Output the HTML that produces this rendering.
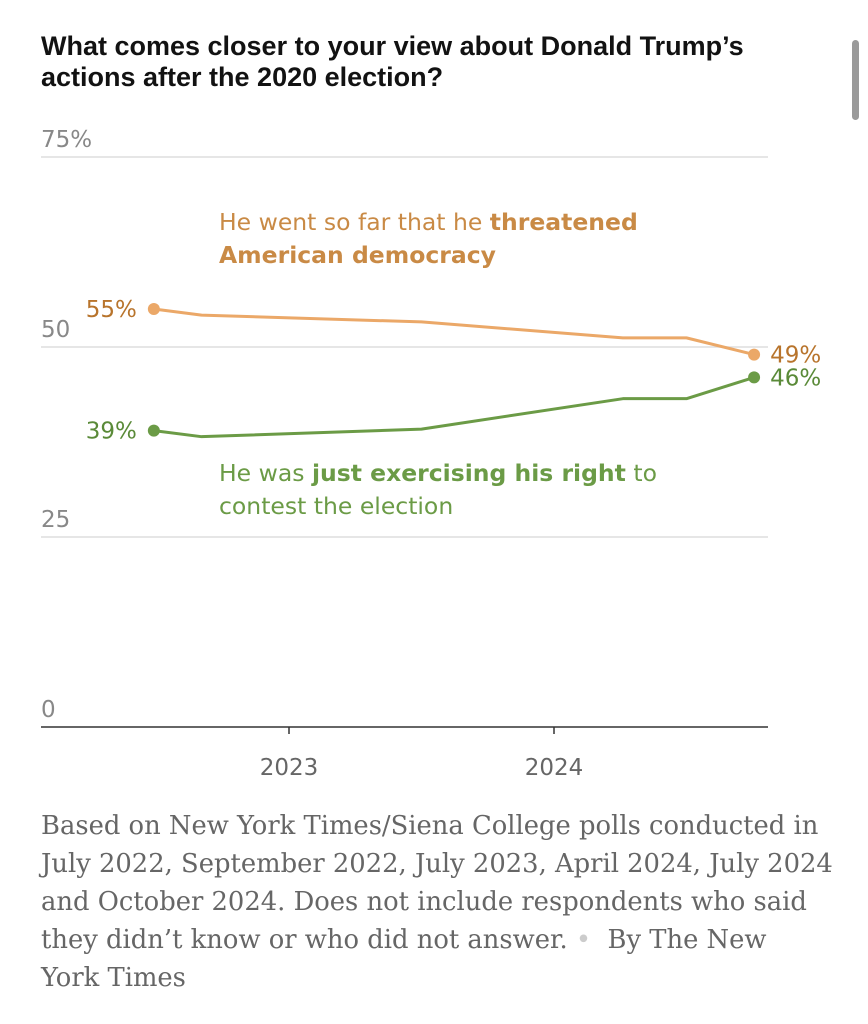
<!DOCTYPE html>
<html><head><meta charset="utf-8"><style>
body{margin:0;background:#fff;width:868px;height:1024px;overflow:hidden;position:relative;font-family:"Liberation Sans",sans-serif}
#title{position:absolute;left:41px;top:31px;font-size:27px;font-weight:bold;line-height:31px;color:#121212;white-space:nowrap}
#note{position:absolute;left:41px;top:807px;font-family:"DejaVu Serif","Liberation Serif",serif;font-size:25.8px;line-height:38px;color:#666;white-space:nowrap}
#scroll{position:absolute;left:852px;top:40px;width:7px;height:80px;border-radius:4px;background:#9a9a9a}
</style></head><body>
<div id="title">What comes closer to your view about Donald Trump’s<br>actions after the 2020 election?</div>
<div id="scroll"></div>
<svg id="chart" width="868" height="800" style="position:absolute;left:0;top:0"></svg>
<div id="note">Based on New York Times/Siena College polls conducted in<br>July 2022, September 2022, July 2023, April 2024, July 2024<br>and October 2024. Does not include respondents who said<br>they didn’t know or who did not answer. <span style="color:#ccc">•</span>&nbsp; By The New<br>York Times</div>
<script>
const dates=[2022.49,2022.67,2023.5,2024.26,2024.5,2024.755];
const threatened=[55,54.2,53.3,51.2,51.2,49];
const exercising=[39,38.2,39.2,43.2,43.2,46];
const yTicks=[0,25,50,75];
const yTickLabels=["0","25","50","75%"];
const xTicks=[2023,2024];
const NS="http://www.w3.org/2000/svg";
const svg=document.getElementById('chart');
const x=d=>289+(d-2023)*265;
const y=v=>727-v*7.6;
const F='"DejaVu Sans","Liberation Sans",sans-serif';
function mk(t,a,txt){const e=document.createElementNS(NS,t);for(const k in a)e.setAttribute(k,a[k]);if(txt!==undefined)e.innerHTML=txt;svg.appendChild(e);return e;}
yTicks.forEach((t,i)=>{
 if(t>0){const g=mk('line',{x1:41,x2:768,y1:y(t),y2:y(t),stroke:'#ddd','stroke-width':1.5});
 
 }
 const l=mk('text',{x:41,y:y(t)-10,'font-size':23,'font-family':F,fill:'#888'},yTickLabels[i]);
 
 
});
const ax=mk('line',{x1:41,x2:768,y1:727,y2:727,stroke:'#333','stroke-width':1.5});


xTicks.forEach(t=>{
 mk('line',{x1:x(t),x2:x(t),y1:727,y2:734,stroke:'#333','stroke-width':1.5});
 const l=mk('text',{x:x(t),y:775,'font-size':23,'font-family':F,fill:'#666','text-anchor':'middle'},t);
 
 
});
function series(vals,col,labCol,name){
 const p=mk('polyline',{points:vals.map((v,i)=>x(dates[i])+','+y(v)).join(' '),fill:'none',stroke:col,'stroke-width':3,'stroke-linejoin':'round'});
 
 
 const n=vals.length-1;
 [0,n].forEach(i=>{const c=mk('circle',{cx:x(dates[i]),cy:y(vals[i]),r:6,fill:col});
 
 });
 const a=mk('text',{x:x(dates[0])-17,y:y(vals[0])+8,'font-size':23,'font-family':F,fill:labCol,'text-anchor':'end'},Math.round(vals[0])+'%');
 
 
 const b=mk('text',{x:x(dates[n])+16,y:y(vals[n])+8,'font-size':23,'font-family':F,fill:labCol},Math.round(vals[n])+'%');
 
 
}
series(threatened,'#eba868','#b8742c','threatened');
series(exercising,'#6b9b46','#5a8a38','exercising');
const t1=mk('text',{x:219,y:230,'font-size':23.5,'font-family':F,fill:'#c98a45'},'He went so far that he <tspan font-weight="bold">threatened</tspan><tspan x="219" dy="33" font-weight="bold">American democracy</tspan>');


const t2=mk('text',{x:219,y:481,'font-size':23.5,'font-family':F,fill:'#6b9b46'},'He was <tspan font-weight="bold">just exercising his right</tspan> to<tspan x="219" dy="33">contest the election</tspan>');


</script>
</body></html>
